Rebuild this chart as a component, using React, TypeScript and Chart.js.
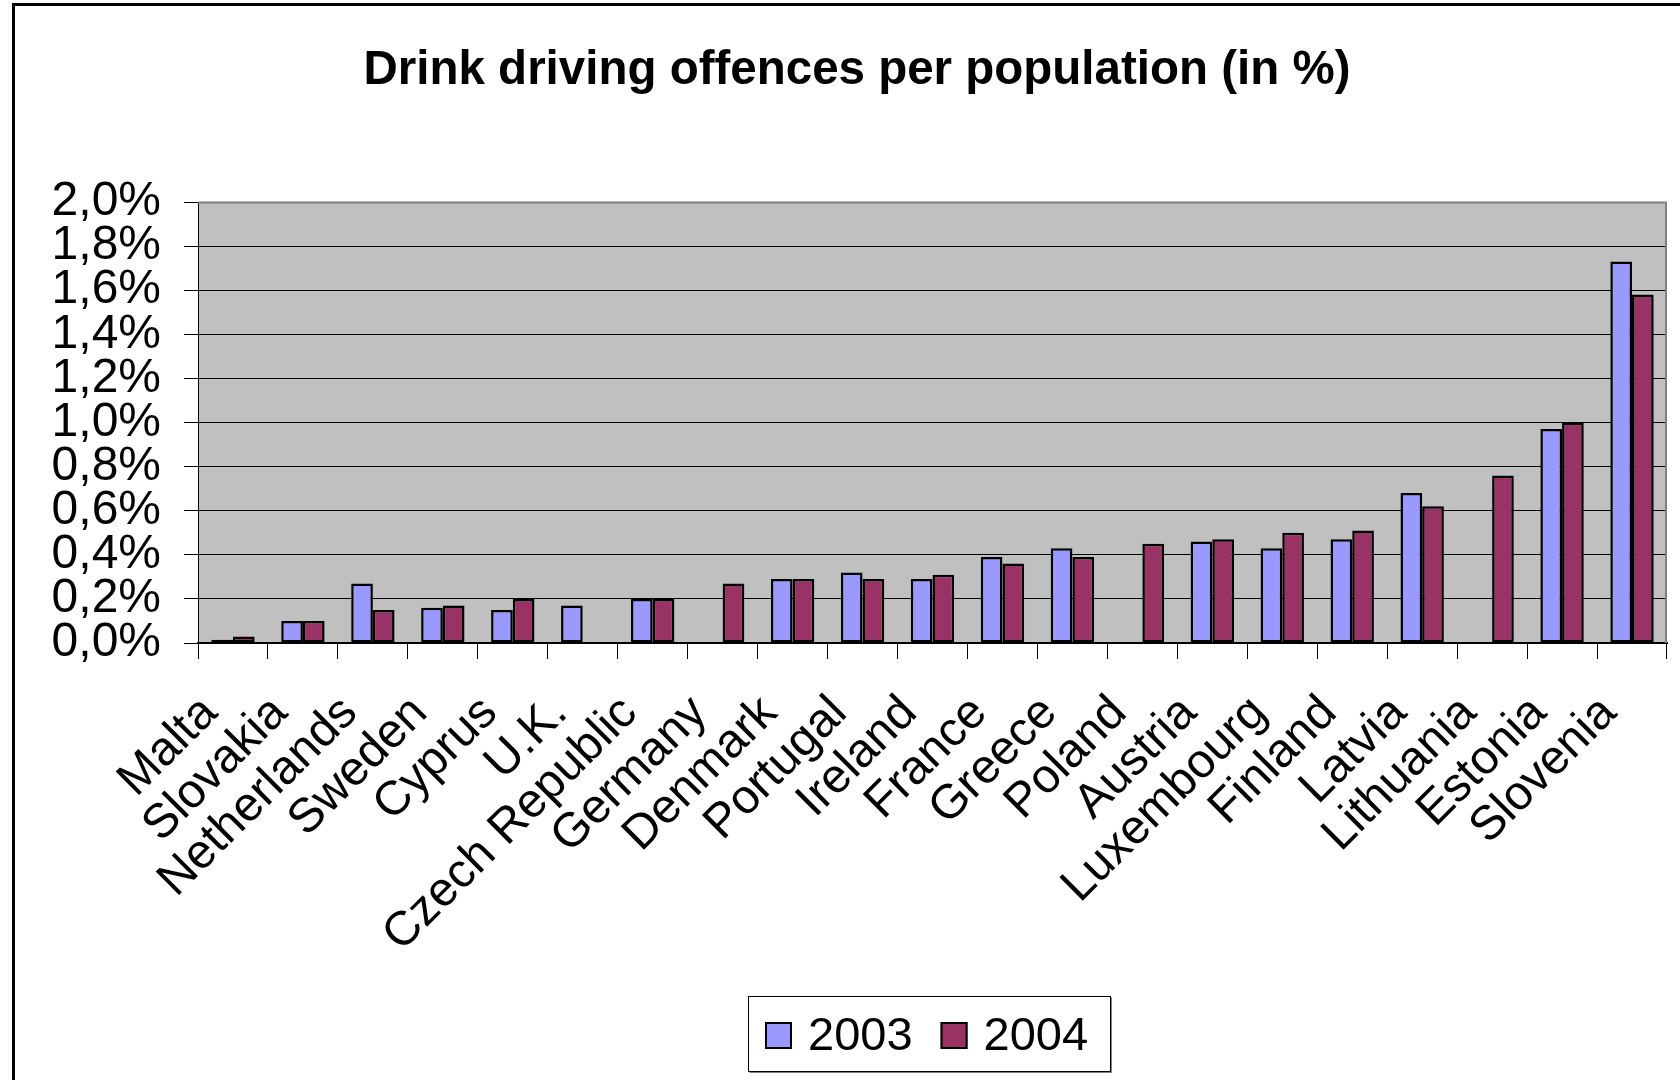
import React, { useEffect, useRef } from 'react';
import { Chart, registerables } from 'chart.js';

Chart.register(...registerables);

const TITLE = 'Drink driving offences per population (in %)';

const categories = [
  'Malta', 'Slovakia', 'Netherlands', 'Sweden', 'Cyprus', 'U.K.', 'Czech Republic',
  'Germany', 'Denmark', 'Portugal', 'Ireland', 'France', 'Greece', 'Poland',
  'Austria', 'Luxembourg', 'Finland', 'Latvia', 'Lithuania', 'Estonia', 'Slovenia',
];

const seriesLabels = ['2003', '2004'];

const values2003 = [
  0.015, 0.1, 0.27, 0.16, 0.15, 0.17, 0.2,
  null, 0.29, 0.32, 0.29, 0.39, 0.43, null,
  0.46, 0.43, 0.47, 0.68, null, 0.97, 1.73,
];

const values2004 = [
  0.03, 0.1, 0.15, 0.17, 0.2, null, 0.2,
  0.27, 0.29, 0.29, 0.31, 0.36, 0.39, 0.45,
  0.47, 0.5, 0.51, 0.62, 0.76, 1.0, 1.58,
];

const yTickLabels = ['0,0%', '0,2%', '0,4%', '0,6%', '0,8%', '1,0%', '1,2%', '1,4%', '1,6%', '1,8%', '2,0%'];

const seriesColors = ['#9999FF', '#993366'];

const FONT = '"Liberation Sans", Arial, Helvetica, sans-serif';

export default function App() {
  const ref = useRef<HTMLCanvasElement>(null);

  useEffect(() => {
    const canvas = ref.current;
    if (!canvas) return;

    const decor = {
      id: 'decor',
      beforeDraw(chart: any) {
        const { ctx, chartArea: a } = chart;
        ctx.save();
        ctx.fillStyle = '#FFFFFF';
        ctx.fillRect(0, 0, chart.width, chart.height);
        ctx.fillStyle = '#C0C0C0';
        ctx.fillRect(a.left, a.top, a.right - a.left, a.bottom - a.top);
        // outer chart frame
        ctx.strokeStyle = '#000000';
        ctx.lineWidth = 3;
        ctx.beginPath();
        ctx.moveTo(13.5, chart.height + 5);
        ctx.lineTo(13.5, 4.5);
        ctx.lineTo(chart.width + 5, 4.5);
        ctx.stroke();
        ctx.restore();
      },
      beforeDatasetsDraw(chart: any) {
        const { ctx, chartArea: a } = chart;
        ctx.save();
        ctx.strokeStyle = '#808080';
        ctx.lineWidth = 2;
        ctx.beginPath();
        ctx.moveTo(a.left, a.top + 0.5);
        ctx.lineTo(a.right - 1, a.top + 0.5);
        ctx.lineTo(a.right - 1, a.bottom);
        ctx.stroke();
        ctx.restore();
      },
      afterDraw(chart: any) {
        const ctx = chart.ctx;
        ctx.save();
        const bx = 748, by = 996, bw = 362, bh = 75;
        ctx.fillStyle = '#FFFFFF';
        ctx.fillRect(bx, by, bw, bh);
        ctx.strokeStyle = '#808080';
        ctx.lineWidth = 1;
        ctx.beginPath();
        ctx.moveTo(bx + 1.5, by + bh + 1.5);
        ctx.lineTo(bx + bw + 1.5, by + bh + 1.5);
        ctx.lineTo(bx + bw + 1.5, by + 1.5);
        ctx.stroke();
        ctx.strokeStyle = '#000000';
        ctx.strokeRect(bx + 0.5, by + 0.5, bw, bh);
        ctx.font = `47px ${FONT}`;
        ctx.textBaseline = 'alphabetic';
        ctx.textAlign = 'left';
        let x = bx + 17;
        const sq = 27;
        const sqTop = 1022;
        chart.data.datasets.forEach((ds: any) => {
          ctx.fillStyle = ds.backgroundColor;
          ctx.fillRect(x, sqTop, sq, sq);
          ctx.strokeStyle = '#000000';
          ctx.lineWidth = 2;
          ctx.strokeRect(x + 1, sqTop + 1, sq - 2, sq - 2);
          x += sq + 16;
          ctx.fillStyle = '#000000';
          ctx.fillText(ds.label, x, 1050);
          x += ctx.measureText(ds.label).width + 28;
        });
        ctx.restore();
      },
    };

    const chart = new Chart(canvas, {
      type: 'bar',
      data: {
        labels: categories,
        datasets: [
          {
            label: seriesLabels[0],
            data: values2003,
            backgroundColor: seriesColors[0],
            borderColor: '#000000',
            borderWidth: 2.5,
            borderSkipped: false,
            categoryPercentage: 0.62,
            barPercentage: 1.0,
          },
          {
            label: seriesLabels[1],
            data: values2004,
            backgroundColor: seriesColors[1],
            borderColor: '#000000',
            borderWidth: 2.5,
            borderSkipped: false,
            categoryPercentage: 0.62,
            barPercentage: 1.0,
          },
        ],
      },
      options: {
        responsive: false,
        animation: false,
        devicePixelRatio: 1,
        layout: { padding: { left: 47, right: 13, top: 0, bottom: 0 } },
        plugins: {
          legend: { display: false },
          tooltip: { enabled: false },
          title: {
            display: true,
            text: TITLE,
            color: '#000000',
            font: { family: FONT, size: 47.5, weight: 'bold' },
            padding: { top: 42, bottom: 103 },
          },
        },
        scales: {
          x: {
            offset: true,
            grid: {
              display: true,
              offset: true,
              drawOnChartArea: false,
              drawTicks: true,
              tickLength: 16,
              color: '#000000',
              lineWidth: 1,
            },
            border: { display: true, color: '#000000', width: 2 },
            ticks: {
              autoSkip: false,
              maxRotation: 45,
              minRotation: 45,
              color: '#000000',
              font: { family: FONT, size: 48 },
              padding: 26,
              labelOffset: -23,
            },
            afterFit: (s: any) => {
              s.height = 437;
              s.paddingLeft = 0;
              s.paddingRight = 0;
            },
          },
          y: {
            min: 0,
            max: 2,
            grid: {
              color: '#000000',
              lineWidth: 1,
              drawTicks: true,
              tickLength: 14,
            },
            border: { display: true, color: '#000000', width: 1 },
            ticks: {
              stepSize: 0.2,
              autoSkip: false,
              color: '#000000',
              font: { family: FONT, size: 48 },
              padding: 23,
              callback: (_v: any, i: number) => yTickLabels[i],
            },
            afterFit: (s: any) => {
              s.width = 151;
              s.paddingTop = 0;
              s.paddingBottom = 0;
            },
          },
        },
      },
      plugins: [decor],
    } as any);

    return () => chart.destroy();
  }, []);

  return (
    <div style={{ position: 'fixed', left: 0, top: 0, width: 1680, height: 1080, overflow: 'hidden', background: '#fff' }}>
      <canvas ref={ref} width={1680} height={1080} style={{ display: 'block', width: 1680, height: 1080 }} />
    </div>
  );
}
